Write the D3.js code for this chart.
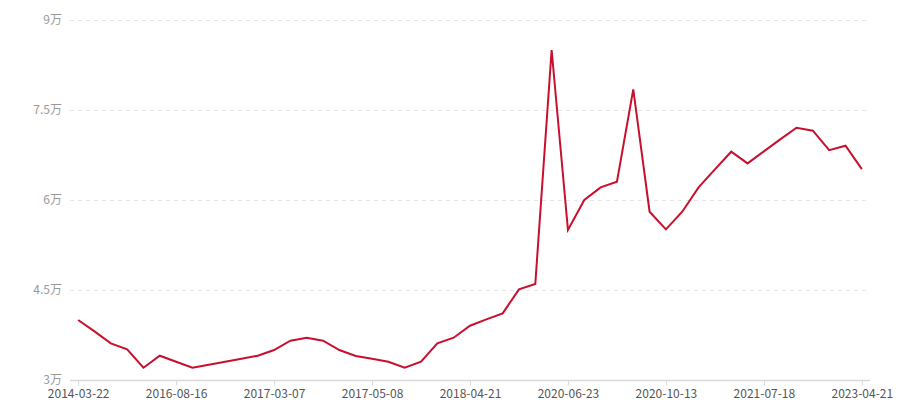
<!DOCTYPE html>
<html>
<head>
<meta charset="utf-8">
<script src="https://cdn.jsdelivr.net/npm/d3@7/dist/d3.min.js"></script>
<style>
  html, body { margin: 0; padding: 0; background: #fff; }
  svg { display: block; font-family: "Microsoft YaHei", "Noto Sans CJK SC", "Noto Sans", sans-serif; }
</style>
</head>
<body>
<svg id="chart" width="900" height="400"></svg>
<script>
// Values in 万 (10,000), one per observation, left to right
const values = [
  4.00, 3.81, 3.61, 3.51, 3.205, 3.405, 3.305, 3.205, 3.255, 3.305,
  3.355, 3.405, 3.50, 3.655, 3.705, 3.655, 3.50, 3.40, 3.355, 3.305,
  3.205, 3.305, 3.61, 3.705, 3.905, 4.01, 4.11, 4.51, 4.60, 8.50,
  5.50, 6.00, 6.21, 6.305, 7.845, 5.805, 5.51, 5.805, 6.21, 6.51,
  6.805, 6.61, 6.81, 7.01, 7.205, 7.155, 6.83, 6.905, 6.515
];
// Category tick labels shown on the x axis (every 6th observation)
const tickIndexes = [0, 6, 12, 18, 24, 30, 36, 42, 48];
const tickLabels = ["2014-03-22", "2016-08-16", "2017-03-07", "2017-05-08", "2018-04-21",
                    "2020-06-23", "2020-10-13", "2021-07-18", "2023-04-21"];
const yTicks = [3, 4.5, 6, 7.5, 9];
const yTickLabels = ["3万", "4.5万", "6万", "7.5万", "9万"];

(function () {
const svg = d3.select("#chart");
const mLeft = 70, mRight = 870, mTop = 20, mBottom = 380;

const x = d3.scalePoint()
  .domain(d3.range(values.length))
  .range([mLeft, mRight])
  .padding(0.5);

const y = d3.scaleLinear().domain([3, 9]).range([mBottom, mTop]);

// grid lines
svg.append("g")
  .selectAll("line")
  .data(yTicks.filter(d => d !== 3))
  .join("line")
  .attr("x1", mLeft).attr("x2", mRight)
  .attr("y1", d => y(d) + 0.5).attr("y2", d => y(d) + 0.5)
  .attr("stroke", "#e6e6e6")
  .attr("stroke-width", 1)
  .attr("stroke-dasharray", "4,4");

// y labels
svg.append("g")
  .selectAll("text")
  .data(yTicks)
  .join("text")
  .attr("x", 62)
  .attr("y", d => y(d))
  .attr("dy", "0.35em")
  .attr("text-anchor", "end")
  .attr("fill", "#999")
  .attr("font-size", 12)
  .text((d, i) => yTickLabels[i]);

// x axis
const xAxis = d3.axisBottom(x)
  .tickValues(tickIndexes)
  .tickSize(5)
  .tickSizeOuter(0)
  .tickPadding(4)
  .tickFormat(d => tickLabels[tickIndexes.indexOf(d)]);

const gx = svg.append("g")
  .attr("transform", `translate(0,${mBottom + 0.5})`)
  .call(xAxis);
gx.select(".domain").attr("stroke", "#d9d9d9").attr("stroke-width", 1.5)
  .attr("d", `M${mLeft},0H${mRight}`);
gx.selectAll(".tick line").attr("stroke", "#d9d9d9");
gx.selectAll(".tick text")
  .attr("fill", "#555")
  .attr("font-size", 12)
  .attr("font-family", "\"Microsoft YaHei\", \"Noto Sans CJK SC\", sans-serif");

// line
const line = d3.line()
  .x((d, i) => x(i))
  .y(d => y(d));

svg.append("path")
  .datum(values)
  .attr("fill", "none")
  .attr("stroke", "#c8102e")
  .attr("stroke-width", 2)
  .attr("stroke-linejoin", "miter")
  .attr("d", line);
})();
</script>
</body>
</html>
